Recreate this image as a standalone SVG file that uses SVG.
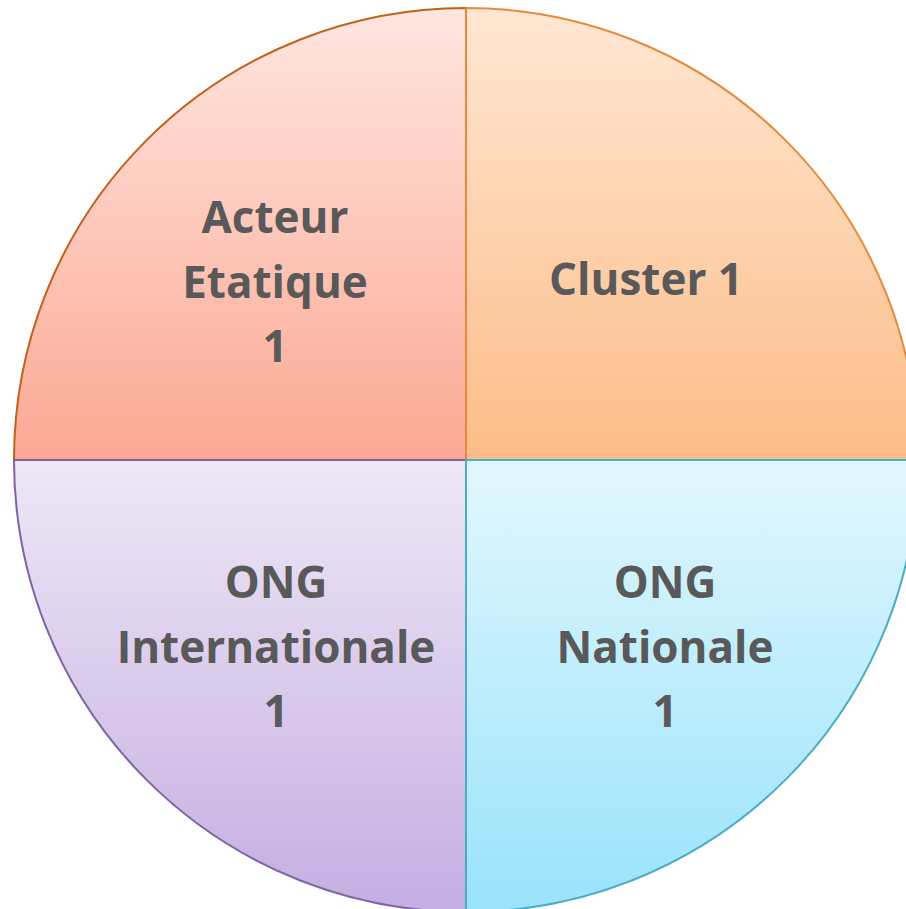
<svg xmlns="http://www.w3.org/2000/svg" width="906" height="909" viewBox="0 0 906 909">
<defs>
<linearGradient id="gTL" x1="0" y1="0" x2="0" y2="1"><stop offset="0" stop-color="#FFE6E0"/><stop offset="1" stop-color="#FBA893"/></linearGradient>
<linearGradient id="gTR" x1="0" y1="0" x2="0" y2="1"><stop offset="0" stop-color="#FFE7D3"/><stop offset="1" stop-color="#FCBC88"/></linearGradient>
<linearGradient id="gBL" x1="0" y1="0" x2="0" y2="1"><stop offset="0" stop-color="#EEE8F6"/><stop offset="1" stop-color="#C4AEE2"/></linearGradient>
<linearGradient id="gBR" x1="0" y1="0" x2="0" y2="1"><stop offset="0" stop-color="#E2F7FE"/><stop offset="1" stop-color="#99E3FA"/></linearGradient>
</defs>
<style>
text{font-family:"Open Sans","Liberation Sans",sans-serif;font-weight:bold;font-size:44px;fill:#595959;text-anchor:middle}
path{stroke-width:2;stroke-linejoin:round}
</style>
<rect width="906" height="909" fill="#FFFFFF"/>
<g id="acteur-etatique">
<path d="M466 460 L14 460 A452 452 0 0 1 466 8 Z" fill="url(#gTL)" stroke="#C0601A"/>
<text x="275" y="233">Acteur</text>
<text x="275" y="298">Etatique</text>
<text x="275" y="362">1</text>
</g>
<g id="cluster">
<path d="M466 460 L466 8 A452 452 0 0 1 918 460 Z" fill="url(#gTR)" stroke="#E58A3C"/>
<text x="646" y="295">Cluster 1</text>
</g>
<g id="ong-internationale">
<path d="M466 460 L466 912 A452 452 0 0 1 14 460 Z" fill="url(#gBL)" stroke="#8064A2"/>
<text x="276" y="598">ONG</text>
<text x="276" y="663">Internationale</text>
<text x="276" y="727">1</text>
</g>
<g id="ong-nationale">
<path d="M466 460 L918 460 A452 452 0 0 1 466 912 Z" fill="url(#gBR)" stroke="#4BACC6"/>
<text x="665" y="598">ONG</text>
<text x="665" y="663">Nationale</text>
<text x="665" y="727">1</text>
</g>
<g id="connectors"/>
</svg>
